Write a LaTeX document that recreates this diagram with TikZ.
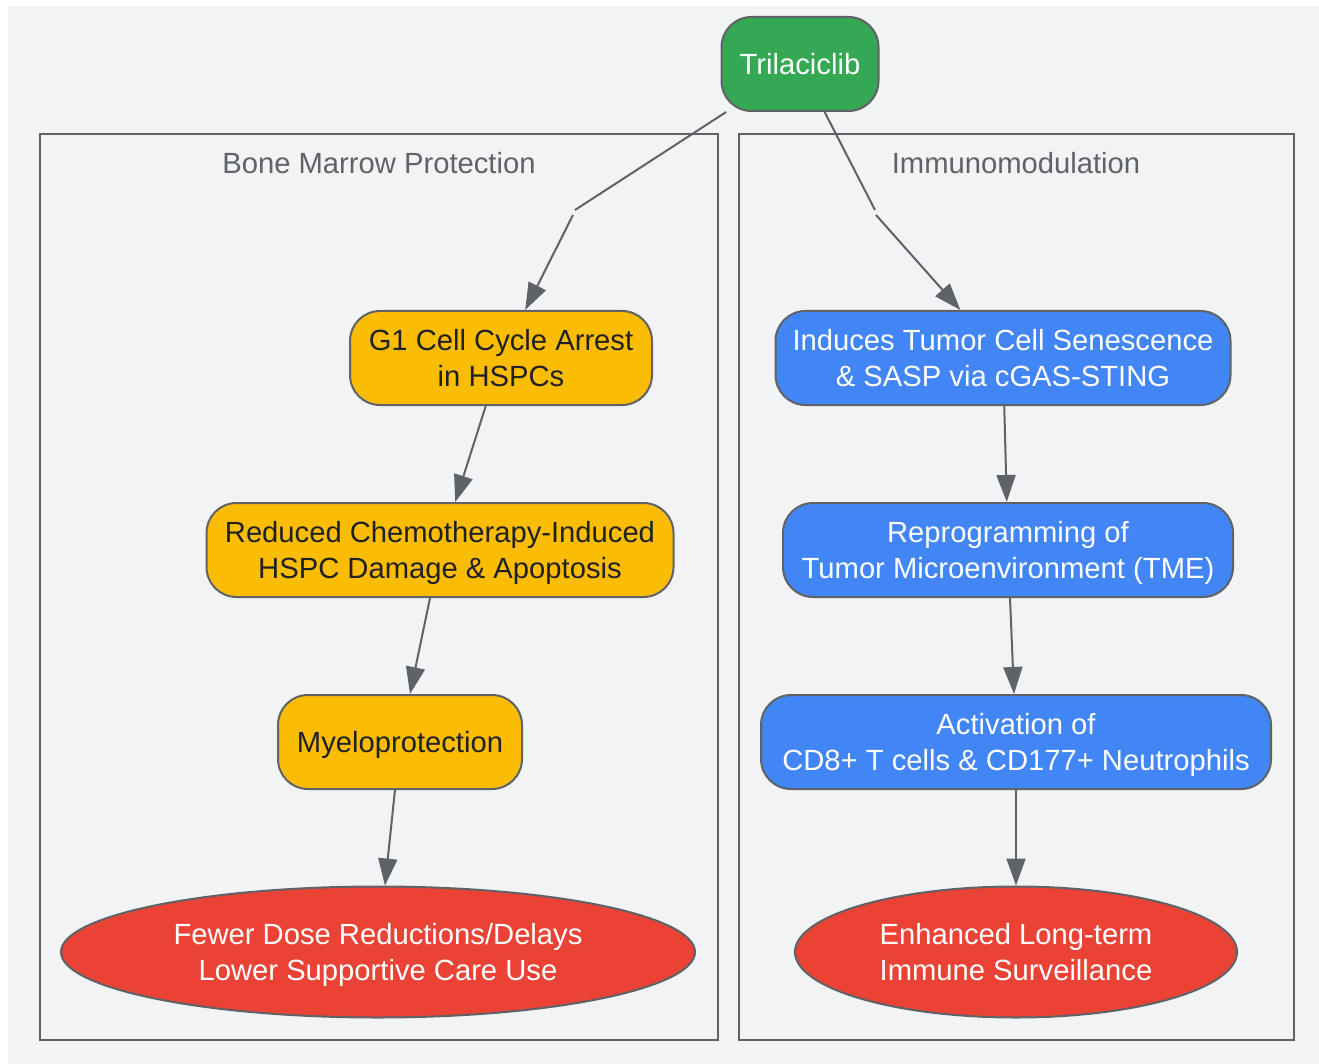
\documentclass[tikz,border=0pt]{standalone}
\usepackage{fontspec}
\setmainfont{Liberation Sans}
\usetikzlibrary{arrows.meta,shapes.geometric}
\definecolor{bggray}{HTML}{F1F3F4}
\definecolor{linegray}{HTML}{5F6368}
\definecolor{gstart}{HTML}{34A853}
\definecolor{gyellow}{HTML}{FBBC04}
\definecolor{gblue}{HTML}{4285F4}
\definecolor{gred}{HTML}{EA4335}
\definecolor{darktext}{HTML}{202124}
\begin{document}
\begin{tikzpicture}[x=1pt,y=-1pt,line width=2pt,
    base font/.style={font=\fontsize{29.2}{36}\selectfont},
    box/.style={rectangle,rounded corners=30pt,draw=linegray,minimum height=94pt,inner sep=0pt,text depth=0pt,align=center,base font},
    start node/.style={box,fill=gstart,text=white},
    bm node/.style={box,fill=gyellow,text=darktext},
    im node/.style={box,fill=gblue,text=white},
    end node/.style={ellipse,draw=linegray,fill=gred,text=white,inner sep=0pt,text depth=0pt,minimum height=131pt,align=center,base font},
    cluster/.style={draw=linegray},
    cluster label/.style={text=linegray,anchor=base,base font},
    link/.style={draw=linegray},
    arrow/.style={link,-{Triangle[length=27pt,width=19pt]}}]
    \useasboundingbox (0,0) rectangle (1319,1064);
    \fill[bggray] (8,6) rectangle (1319,1064);

    % clusters
    \draw[cluster] (40,134) rectangle (718,1040);
    \node[cluster label] (bmlabel) at (379,174) {Bone Marrow Protection};
    \draw[cluster] (739,134) rectangle (1294,1040);
    \node[cluster label] (imlabel) at (1016,174) {Immunomodulation};

    % nodes
    \node[start node,minimum width=157pt] at (800,64) (tri) {Trilaciclib};
    \node[bm node,minimum width=302pt] at (501,358) (g1) {G1 Cell Cycle Arrest\\in HSPCs};
    \node[bm node,minimum width=467pt] at (440,550) (red) {Reduced Chemotherapy-Induced\\HSPC Damage \& Apoptosis};
    \node[bm node,minimum width=244pt] at (400,742) (myelo) {Myeloprotection};
    \node[end node,minimum width=634pt] at (378,952) (fewer) {Fewer Dose Reductions/Delays\\Lower Supportive Care Use};
    \node[im node,minimum width=455pt] at (1003,358) (sen) {Induces Tumor Cell Senescence\\\& SASP via cGAS-STING};
    \node[im node,minimum width=450pt] at (1008,550) (tme) {Reprogramming of\\Tumor Microenvironment (TME)};
    \node[im node,minimum width=510pt] at (1016,742) (act) {Activation of\\CD8+ T cells \& CD177+ Neutrophils};
    \node[end node,minimum width=442pt] at (1016,952) (surv) {Enhanced Long-term\\Immune Surveillance};

    % split points of the cluster edges
    \coordinate (lsplit) at (575,210);
    \coordinate (lsplitb) at (573,215);
    \coordinate (rsplit) at (875,210);
    \coordinate (rsplitb) at (876,215);

    \path[link] (tri) -- (lsplit);
    \path[link] (tri) -- (rsplit);
    \path[arrow] (lsplitb) -- (g1);
    \path[arrow] (rsplitb) -- (sen);
    \path[arrow] (g1) -- (red);
    \path[arrow] (red) -- (myelo);
    \path[arrow] (myelo) -- (fewer);
    \path[arrow] (sen) -- (tme);
    \path[arrow] (tme) -- (act);
    \path[arrow] (act) -- (surv);
\end{tikzpicture}
\end{document}
